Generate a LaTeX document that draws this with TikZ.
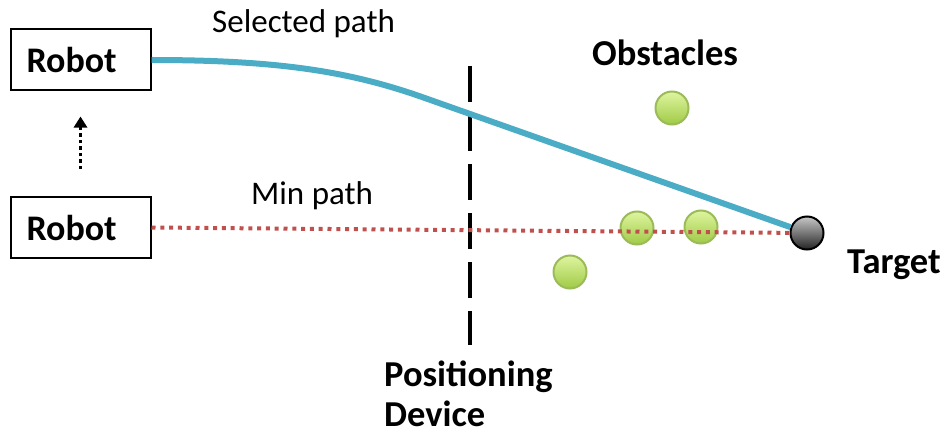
\documentclass[tikz,border=0pt]{standalone}
\usepackage{fontspec}
\setmainfont{Carlito}
\usetikzlibrary{arrows.meta}
\definecolor{pathblue}{RGB}{75,172,198}
\definecolor{minred}{RGB}{192,80,77}
\definecolor{obsedge}{RGB}{155,187,89}
\definecolor{obstop}{RGB}{222,245,160}
\definecolor{obsbot}{RGB}{160,202,70}
\definecolor{tgttop}{RGB}{200,200,200}
\definecolor{tgtbot}{RGB}{35,35,35}
\tikzset{
 robotbox/.style={draw=black, line width=2pt, text width=108pt, align=left, inner xsep=16pt, inner ysep=0pt, minimum height=61pt, font=\fontsize{36}{42}\selectfont\bfseries},
 obstacle/.style={circle, draw=obsedge, line width=2pt, top color=obstop, bottom color=obsbot, minimum size=33pt, inner sep=0pt},
 targetball/.style={circle, draw=black, line width=2pt, top color=tgttop, bottom color=tgtbot, minimum size=33pt, inner sep=0pt},
 boldlabel/.style={font=\fontsize{36.5}{40}\selectfont\bfseries, inner sep=0pt, anchor=base west, align=left},
 plainlabel/.style={font=\fontsize{33}{38}\selectfont, inner sep=0pt, anchor=base west},
 selpath/.style={draw=pathblue, line width=6pt},
 minpath/.style={draw=minred, line width=4pt, dash pattern=on 4pt off 4.8pt},
 devline/.style={draw=black, line width=4pt, dash pattern=on 36pt off 13pt},
 moveline/.style={draw=black, line width=3pt, dash pattern=on 3.5pt off 3pt, -{Triangle[length=11pt,width=13pt]}},
}
\begin{document}
\begin{tikzpicture}[x=1pt,y=-1pt]
\useasboundingbox (0,0) rectangle (949,433);
% robots
\node[robotbox] (robot1) at (80.5,60) {Robot};
\node[robotbox] (robot2) at (80.5,227.5) {Robot};
\draw[moveline, shorten <=27pt, shorten >=25pt] (robot2.north) -- (robot1.south);
% obstacles
\node[obstacle] (o1) at (672,108) {};
\node[obstacle] (o2) at (637,228) {};
\node[obstacle] (o3) at (701,227) {};
\node[obstacle] (o4) at (570,272) {};
% target
\node[targetball] (target) at (807,233) {};
% positioning device line
\coordinate (pdtop) at (470,66);
\coordinate (pdbot) at (470,345);
\draw[devline] (pdtop) -- (pdbot);
% paths
\draw[minpath] (robot2.east) -- (target);
\draw[selpath] (robot1.east) .. controls (280,60) and (350,72) .. (420,96.3) -- (target);
% labels
\node[plainlabel] (sellabel) at (212,33) {Selected path};
\node[plainlabel] (minlabel) at (251,204) {Min path};
\node[boldlabel] (obslabel) at (592,66) {Obstacles};
\node[boldlabel] (tgtlabel) at (847,273) {Target};
\node[boldlabel] (pdlabel) at (384,426) {Positioning\\Device};
\end{tikzpicture}
\end{document}
